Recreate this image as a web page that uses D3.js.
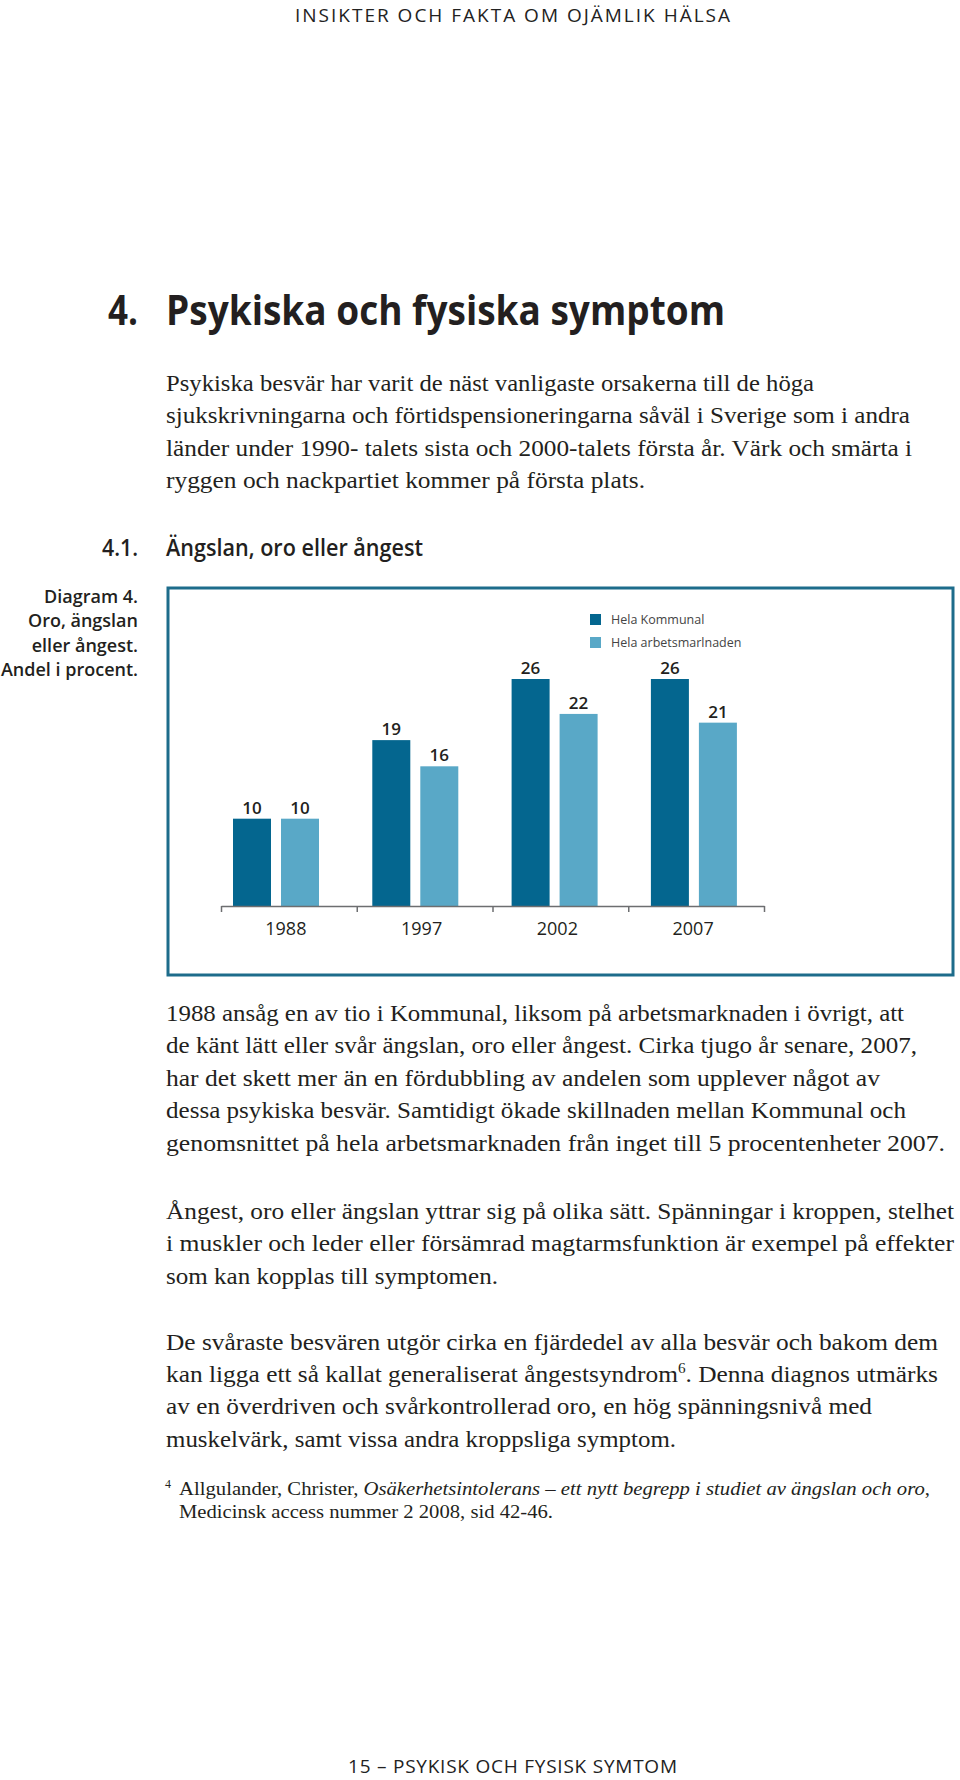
<!DOCTYPE html>
<html><head><meta charset="utf-8">
<script src="https://cdn.jsdelivr.net/npm/d3@7"></script>
<style>html,body{margin:0;padding:0;background:#fff}</style>
</head><body><svg id="page" width="960" height="1780"></svg>
<script>
// ---- chart data ----
const years = ["1988", "1997", "2002", "2007"];
const seriesNames = ["Hela Kommunal", "Hela arbetsmarlnaden"];
const kommunal = [10, 19, 26, 26];
const arbetsmarknad = [10, 16, 22, 21];
const seriesColors = ["#04668f", "#59a8c7"];

// ---- page texts ----
const headerText = "INSIKTER OCH FAKTA OM OJÄMLIK HÄLSA";
const footerText = "15 – PSYKISK OCH FYSISK SYMTOM";
const titleNum = "4.";
const titleText = "Psykiska och fysiska symptom";
const sectionNum = "4.1.";
const sectionText = "Ängslan, oro eller ångest";
const captionLines = ["Diagram 4.", "Oro, ängslan", "eller ångest.", "Andel i procent."];
const para1 = [
  "Psykiska besvär har varit de näst vanligaste orsakerna till de höga",
  "sjukskrivningarna och förtidspensioneringarna såväl i Sverige som i andra",
  "länder under 1990- talets sista och 2000-talets första år. Värk och smärta i",
  "ryggen och nackpartiet kommer på första plats."
];
const para2 = [
  "1988 ansåg en av tio i Kommunal, liksom på arbetsmarknaden i övrigt, att",
  "de känt lätt eller svår ängslan, oro eller ångest. Cirka tjugo år senare, 2007,",
  "har det skett mer än en fördubbling av andelen som upplever något av",
  "dessa psykiska besvär. Samtidigt ökade skillnaden mellan Kommunal och",
  "genomsnittet på hela arbetsmarknaden från inget till 5 procentenheter 2007."
];
const para3 = [
  "Ångest, oro eller ängslan yttrar sig på olika sätt. Spänningar i kroppen, stelhet",
  "i muskler och leder eller försämrad magtarmsfunktion är exempel på effekter",
  "som kan kopplas till symptomen."
];
const para4 = [
  [["De svåraste besvären utgör cirka en fjärdedel av alla besvär och bakom dem", "n"]],
  [["kan ligga ett så kallat generaliserat ångestsyndrom", "n"], ["6", "sup"], [". Denna diagnos utmärks", "post"]],
  [["av en överdriven och svårkontrollerad oro, en hög spänningsnivå med", "n"]],
  [["muskelvärk, samt vissa andra kroppsliga symptom.", "n"]]
];
const footnoteMark = "4";
const footnote = [
  [["Allgulander, Christer, ", "n"], ["Osäkerhetsintolerans – ett nytt begrepp i studiet av ängslan och oro", "i"], [",", "n"]],
  [["Medicinsk access nummer 2 2008, sid 42-46.", "n"]]
];

// ---- layout ----
const svg = d3.select("#page");
const ink = "#231f20";
const serif = "'Liberation Serif', 'DejaVu Serif', serif";
const sans = "'Open Sans', 'Noto Sans', sans-serif";

function textLine(x, y, str, opts) {
  const t = svg.append("text").attr("x", x).attr("y", y).text(str)
    .attr("font-family", opts.family || sans)
    .attr("font-size", opts.size)
    .attr("font-weight", opts.weight || 400)
    .attr("fill", opts.fill || ink);
  if (opts.anchor) t.attr("text-anchor", opts.anchor);
  if (opts.len) t.attr("textLength", opts.len).attr("lengthAdjust", opts.adjust || "spacingAndGlyphs");
  return t;
}

// header & footer
textLine(295, 22, headerText, {size: 19, len: 435, adjust: "spacing", fill: "#222"});
textLine(348, 1773, footerText, {size: 19, len: 329, adjust: "spacing", fill: "#222"});

// title
textLine(108, 325, titleNum, {size: 42, weight: 700, len: 30});
textLine(166, 325, titleText, {size: 42, weight: 700, len: 559});

// body paragraphs
function paragraph(lines, ends, x, y0, lh, size) {
  lines.forEach((l, i) => {
    textLine(x, y0 + i * lh, l, {family: serif, size: size, len: ends[i] - x});
  });
}
paragraph(para1, [814, 910, 912, 645], 166, 391, 32.4, 23);

// section heading
textLine(102, 556, sectionNum, {size: 23, weight: 600, len: 36});
textLine(166, 556, sectionText, {size: 23, weight: 600, len: 257});

// caption
captionLines.forEach((c, i) => {
  textLine(138, 603 + i * 24.3, c, {size: 18, weight: 600, anchor: "end"});
});

// ---- chart ----
svg.append("rect").attr("x", 168).attr("y", 588).attr("width", 785).attr("height", 387)
  .attr("fill", "none").attr("stroke", "#1d6c8b").attr("stroke-width", 3);

const y = d3.scaleLinear().domain([0, 26]).range([906, 679]);
const groupX = d3.scaleBand().domain(years).range([233, 233 + 4 * 139.3]);
const subX = d3.scaleBand().domain(seriesNames).range([0, 86]).paddingInner(0.2083);
const axisBand = d3.scaleBand().domain(years).range([221, 764]);
const axisX = d3.scaleLinear().domain([0, years.length]).range([221, 764]);

const rows = years.map((yr, i) => ({year: yr, values: [kommunal[i], arbetsmarknad[i]]}));

const groups = svg.append("g").selectAll("g").data(rows).join("g")
  .attr("transform", d => `translate(${groupX(d.year)},0)`);
groups.selectAll("rect").data(d => d.values.map((v, j) => ({v, s: seriesNames[j], j})))
  .join("rect")
  .attr("x", d => subX(d.s)).attr("width", subX.bandwidth())
  .attr("y", d => y(d.v)).attr("height", d => y(0) - y(d.v))
  .attr("fill", d => seriesColors[d.j]);
groups.selectAll("text").data(d => d.values.map((v, j) => ({v, s: seriesNames[j]})))
  .join("text")
  .attr("x", d => subX(d.s) + subX.bandwidth() / 2)
  .attr("y", d => y(d.v) - 5)
  .attr("text-anchor", "middle")
  .attr("font-family", sans).attr("font-size", 17).attr("font-weight", 600)
  .attr("fill", ink)
  .text(d => d.v);

const axis = svg.append("g").attr("transform", `translate(0,${y(0)})`)
  .call(d3.axisBottom(axisX).tickValues(d3.range(years.length + 1)).tickFormat("")
    .tickSizeInner(6).tickSizeOuter(0));
axis.selectAll("path, line").attr("stroke", "#6d6e70").attr("stroke-width", 1.5);

svg.append("g").selectAll("text").data(years).join("text")
  .attr("x", d => axisBand(d) + axisBand.bandwidth() / 2 - 3)
  .attr("y", 935)
  .attr("text-anchor", "middle")
  .attr("font-family", sans).attr("font-size", 18).attr("font-weight", 400)
  .attr("fill", ink)
  .text(d => d);

// legend
const legend = svg.append("g").selectAll("g").data(seriesNames).join("g")
  .attr("transform", (d, i) => `translate(590,${614 + i * 23})`);
legend.append("rect").attr("width", 11).attr("height", 11)
  .attr("fill", (d, i) => seriesColors[i]);
legend.append("text").attr("x", 21).attr("y", 10)
  .attr("font-family", sans).attr("font-size", 12.5).attr("fill", "#444")
  .text(d => d);

// more paragraphs
paragraph(para2, [904, 917, 880, 906, 945], 166, 1021, 32.4, 23);
paragraph(para3, [954, 954, 498], 166, 1219, 32.4, 23);

function richLine(x, yPos, segs, size, end) {
  const t = svg.append("text").attr("x", x).attr("y", yPos)
    .attr("font-family", serif).attr("font-size", size).attr("fill", ink);
  segs.forEach(([s, kind]) => {
    const ts = t.append("tspan").text(s);
    if (kind === "sup") ts.attr("font-size", size * 0.6).attr("dy", -size * 0.38);
    else if (kind === "post") ts.attr("dy", size * 0.38);
    else if (kind === "i") ts.attr("font-style", "italic");
  });
  if (end) t.attr("textLength", end - x).attr("lengthAdjust", "spacingAndGlyphs");
}
const p4ends = [938, 938, 872, 676];
para4.forEach((segs, i) => richLine(166, 1350 + i * 32.2, segs, 23, p4ends[i]));

// footnote
svg.append("text").attr("x", 165).attr("y", 1488).attr("font-family", serif)
  .attr("font-size", 12).attr("fill", ink).text(footnoteMark);
const fnEnds = [930, 553];
footnote.forEach((segs, i) => richLine(179, 1495 + i * 23, segs, 19.5, fnEnds[i]));
</script>
</body></html>
